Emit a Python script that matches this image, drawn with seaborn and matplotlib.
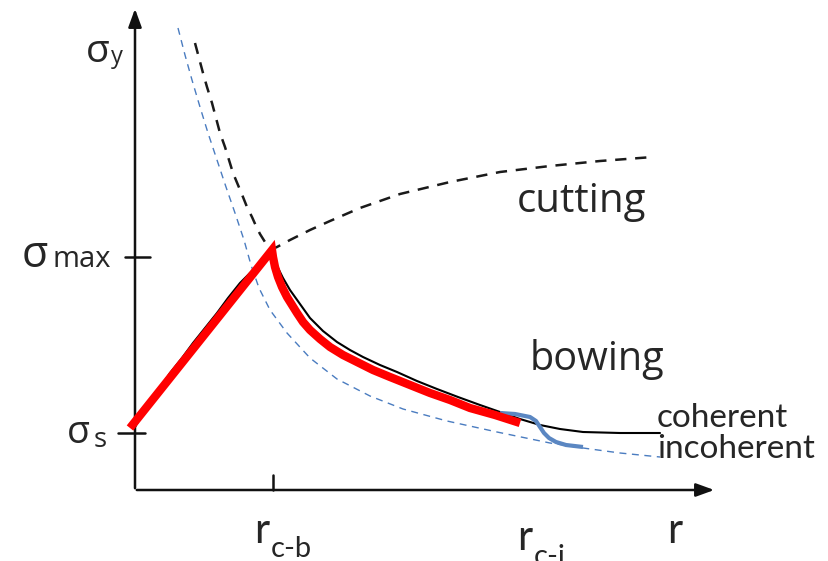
import matplotlib
matplotlib.use("Agg")
import matplotlib.pyplot as plt
import seaborn as sns
import pandas as pd

# curve points (pixel-like space, y grows downwards)
cut_steep_x = [195, 199, 203, 207, 212, 216, 220, 225, 229, 233, 238, 243, 247, 252, 256, 260, 265, 270]
cut_steep_y = [43, 58, 73, 87, 103, 118, 133, 147, 160, 173, 185, 197, 207, 217, 226, 234, 242, 250]

cut_flat_x = [270, 277, 290, 310, 330, 360, 400, 450, 500, 550, 600, 653]
cut_flat_y = [250, 247, 240, 230, 221, 208, 194, 182, 172, 166, 161, 157]

incoh_dash_x = [178, 185, 192, 200, 208, 217, 226, 235, 244, 251, 259, 270, 287, 310, 337,
                370, 403, 447, 497, 550, 583, 620, 660]
incoh_dash_y = [28, 55, 80, 107, 133, 160, 187, 213, 240, 265, 288, 310, 333, 358, 379,
                396, 409, 421, 432, 443, 448, 453, 457]

coh_x = [135, 142, 150, 160, 170, 182, 193, 205, 217, 228, 240, 250, 257, 264, 270,
         273, 277, 283, 290, 300, 310, 323, 337, 350, 363, 380, 397, 417, 437, 458,
         480, 500, 520, 540, 560, 583, 620, 660]
coh_y = [427, 415, 403, 388, 373, 358, 343, 328, 313, 298, 283, 273, 267, 259, 252,
         258, 266, 278, 290, 304, 318, 331, 342, 350, 357, 365, 372, 381, 389, 397,
         405, 412, 419, 425, 429, 432, 433, 433]

red_x = [130, 272, 273, 275, 278, 282, 287, 292, 297, 303, 310, 320, 330, 343, 357,
         373, 390, 410, 430, 450, 470, 495, 520]
red_y = [428, 250, 257, 267, 277, 287, 297, 305, 313, 322, 330, 339, 347, 355, 362,
         370, 377, 385, 393, 400, 408, 415, 423]

blue_x = [500, 515, 530, 536, 540, 544, 549, 556, 566, 583]
blue_y = [413, 414, 417, 421, 427, 433, 438, 442, 445, 447]

yticks = [257, 433]
ytick_left = [125, 118]
ytick_right = [150, 145]
xticks = [273]

sns.set_style("white")
fig = plt.figure(figsize=(8.29, 5.61), dpi=100)
ax = fig.add_axes([0, 0, 1, 1])
ax.set_xlim(0, 829)
ax.set_ylim(561, 0)
ax.axis("off")


def curve(x, y, **kw):
    d = pd.DataFrame({"x": x, "y": y})
    sns.lineplot(data=d, x="x", y="y", sort=False, estimator=None, ax=ax, **kw)


curve(incoh_dash_x, incoh_dash_y, color="#4a7cc0", lw=1.0, linestyle=(0, (5, 4)), zorder=2)
curve(cut_steep_x, cut_steep_y, color="#1a1a1a", lw=1.8, linestyle=(0, (4.5, 3.5)), zorder=3)
curve(cut_flat_x, cut_flat_y, color="#1a1a1a", lw=1.8, linestyle=(0, (4.5, 3.5)), zorder=3)
curve(coh_x, coh_y, color="black", lw=1.5, zorder=4)
curve(blue_x, blue_y, color="#5b87c2", lw=3.0, zorder=5, solid_capstyle="butt")
curve(red_x, red_y, color="#ff0000", lw=6.0, zorder=6, solid_capstyle="butt",
      solid_joinstyle="miter")

# axes with arrows
ax.annotate("", xy=(135, 6), xytext=(135, 491),
            arrowprops=dict(arrowstyle="-|>,head_length=1.1,head_width=0.4", lw=1.8, color="#111111"))
ax.annotate("", xy=(717, 490), xytext=(134, 490),
            arrowprops=dict(arrowstyle="-|>,head_length=1.1,head_width=0.4", lw=1.8, color="#111111"))
for yt, x0, x1 in zip(yticks, ytick_left, ytick_right):
    ax.plot([x0, x1], [yt, yt], color="#111111", lw=1.8)
for xt in xticks:
    ax.plot([xt, xt], [475, 490], color="#111111", lw=1.8)

sym = ["Open Sans", "DejaVu Sans"]
cal = ["Lato", "DejaVu Sans"]

# y labels
ax.text(86, 62, "σ", fontsize=28, family=sym, va="baseline")
ax.text(111, 63, "y", fontsize=17, family=sym, va="baseline")
ax.text(22, 267, "σ", fontsize=31, family=sym, va="baseline")
ax.text(53, 267, "max", fontsize=21, family=sym, va="baseline")
ax.text(67, 443, "σ", fontsize=27, family=sym, va="baseline")
ax.text(94, 447, "s", fontsize=20, family=sym, va="baseline")

# x labels
ax.text(254, 543, "r", fontsize=30, family=cal, va="baseline")
ax.text(271, 557, "c-b", fontsize=21, family=cal, va="baseline")
ax.text(517, 550, "r", fontsize=30, family=cal, va="baseline")
ax.text(534, 565, "c-i", fontsize=21, family=cal, va="baseline")
ax.text(667, 543, "r", fontsize=30, family=cal, va="baseline")

# curve labels
ax.text(517, 212, "cutting", fontsize=29, family=sym, va="baseline")
ax.text(530, 370, "bowing", fontsize=28.5, family=sym, va="baseline")
ax.text(657, 427, "coherent", fontsize=24, family=cal, va="baseline")
ax.text(657, 458, "incoherent", fontsize=24, family=cal, va="baseline")

fig.savefig("out.png", dpi=100)
